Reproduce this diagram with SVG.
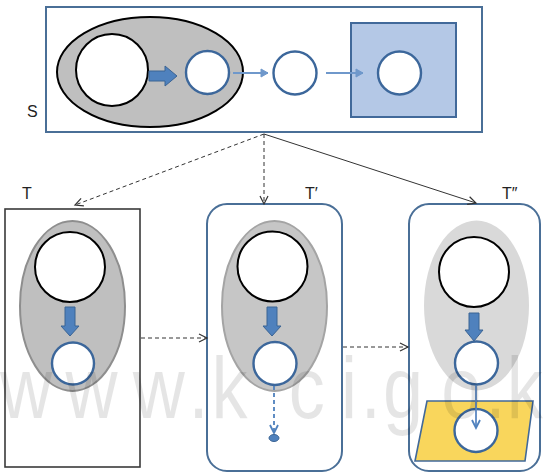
<svg xmlns="http://www.w3.org/2000/svg" width="544" height="474" viewBox="0 0 544 474">
  <style>
    .lbl { font-family: "Liberation Sans", Arial, sans-serif; font-size: 16px; fill: #222; }
    .wm { font-family: "Liberation Sans", Arial, sans-serif; font-size: 88px; fill: #000; fill-opacity: 0.1; }
    .frame-blue { fill: #fff; stroke: #4A6F97; stroke-width: 2; }
    .frame-dark { fill: #fff; stroke: #3a3a3a; stroke-width: 1.6; }
    .hole { fill: #fff; stroke: #000; stroke-width: 2; }
    .ring { fill: #fff; stroke: #3C679B; stroke-width: 2.4; }
    .block { fill: #4F81BD; stroke: #3B6494; stroke-width: 1; }
    .thin { fill: none; stroke: #6F98CB; stroke-width: 2; }
    .link { fill: none; stroke: #333; stroke-width: 1; }
    .dash { stroke-dasharray: 4 3; }
  </style>
  <defs>
    <marker id="open" markerUnits="userSpaceOnUse" markerWidth="12" markerHeight="12" refX="9" refY="5" orient="auto" viewBox="0 0 12 10">
      <path d="M1,1 L9,5 L1,9" fill="none" stroke="#333" stroke-width="1.2"/>
    </marker>
    <marker id="tip" markerUnits="userSpaceOnUse" markerWidth="10" markerHeight="10" refX="8" refY="5" orient="auto" viewBox="0 0 10 10">
      <path d="M1,1 L8,5 L1,9 Z" fill="#6F98CB" stroke="#6F98CB" stroke-width="1"/>
    </marker>
    <marker id="tipv" markerUnits="userSpaceOnUse" markerWidth="12" markerHeight="12" refX="9" refY="5" orient="auto" viewBox="0 0 12 10">
      <path d="M1,1 L9,5 L1,9" fill="none" stroke="#4F81BD" stroke-width="1.8"/>
    </marker>
  </defs>

  <!-- source S -->
  <g id="S">
    <rect class="frame-blue" x="46" y="7" width="436" height="125"/>
    <ellipse cx="150" cy="72" rx="93" ry="55" fill="#BFBFBF" stroke="#000" stroke-width="2"/>
    <circle class="hole" cx="112" cy="70" r="36"/>
    <path class="block" d="M149,71 H165 V66 L177,76 L165,86 V81 H149 Z"/>
    <circle class="ring" cx="207.5" cy="72.5" r="21.5"/>
    <circle class="ring" cx="295" cy="73" r="21.5"/>
    <rect x="351" y="23" width="105" height="94" fill="#B4C8E6" stroke="#41699A" stroke-width="2"/>
    <circle class="ring" cx="399.5" cy="73" r="21.5"/>
    <line class="thin" x1="233" y1="73" x2="268" y2="73" marker-end="url(#tip)"/>
    <line class="thin" x1="326" y1="73" x2="363" y2="73" marker-end="url(#tip)"/>
    <text class="lbl" x="27" y="117">S</text>
  </g>

  <!-- target T -->
  <g id="T">
    <rect class="frame-dark" x="5" y="209" width="135" height="258"/>
    <ellipse cx="72.5" cy="306" rx="52.5" ry="85" fill="#BFBFBF" stroke="#8E8E8E" stroke-width="2"/>
    <circle class="hole" cx="70" cy="267" r="35"/>
    <path class="block" d="M65,307 H75 V326 H79 L70,336 L61,326 H65 Z"/>
    <circle class="ring" cx="73" cy="363.5" r="21"/>
    <text class="lbl" x="22" y="199">T</text>
  </g>

  <!-- target T' -->
  <g id="T1">
    <rect class="frame-blue" x="207" y="204" width="135" height="267" rx="20"/>
    <ellipse cx="274.5" cy="306" rx="52.5" ry="85" fill="#C6C6C6" stroke="#A4A4A4" stroke-width="2"/>
    <circle class="hole" cx="272.5" cy="266.5" r="35"/>
    <path class="block" d="M267,307 H277 V326 H281 L272,336 L263,326 H267 Z"/>
    <circle class="ring" cx="275" cy="363.5" r="21.5"/>
    <line x1="274" y1="386" x2="274" y2="433" fill="none" stroke="#4F81BD" stroke-width="1.8" stroke-dasharray="4 3" marker-end="url(#tipv)"/>
    <ellipse cx="274" cy="438" rx="5" ry="3.5" fill="#4F81BD" stroke="#3B6494" stroke-width="1"/>
    <text class="lbl" x="305" y="199">T′</text>
  </g>

  <!-- target T'' -->
  <g id="T2">
    <rect class="frame-blue" x="409" y="204" width="131" height="267" rx="20"/>
    <ellipse cx="476.5" cy="305.5" rx="52.5" ry="85" fill="#D9D9D9"/>
    <circle class="hole" cx="474" cy="272" r="35"/>
    <path class="block" d="M469,313 H479 V330 H483 L474,341 L465,330 H469 Z"/>
    <circle class="ring" cx="476.5" cy="363" r="21.5"/>
    <path d="M427,401 H533 L525,461 H415 Z" fill="#F9D65C" stroke="#41699A" stroke-width="1.6"/>
    <circle class="ring" cx="476" cy="430.5" r="21.5"/>
    <line x1="476" y1="385" x2="476" y2="428" fill="none" stroke="#5B88C2" stroke-width="1.8" marker-end="url(#tipv)"/>
    <text class="lbl" x="502" y="199">T″</text>
  </g>

  <!-- connectors -->
  <g id="connectors">
    <line class="link dash" x1="264" y1="134" x2="75" y2="205" marker-end="url(#open)"/>
    <line class="link dash" x1="264" y1="134" x2="264" y2="204" marker-end="url(#open)"/>
    <line class="link" x1="264" y1="134" x2="476" y2="203" marker-end="url(#open)"/>
    <line class="link dash" x1="141" y1="338" x2="207" y2="338" marker-end="url(#open)"/>
    <line class="link dash" x1="343" y1="347" x2="408" y2="347" marker-end="url(#open)"/>
  </g>

  <!-- faint site watermark -->
  <g transform="scale(0.82,1)">
    <text class="wm" y="418"><tspan x="0">w</tspan><tspan x="80">w</tspan><tspan x="162">w</tspan><tspan x="230">.</tspan><tspan x="258">k</tspan><tspan x="352">c</tspan><tspan x="416">i</tspan><tspan x="440">.</tspan><tspan x="467">g</tspan><tspan x="538">o</tspan><tspan x="592">.</tspan><tspan x="618">k</tspan></text>
  </g>
</svg>
